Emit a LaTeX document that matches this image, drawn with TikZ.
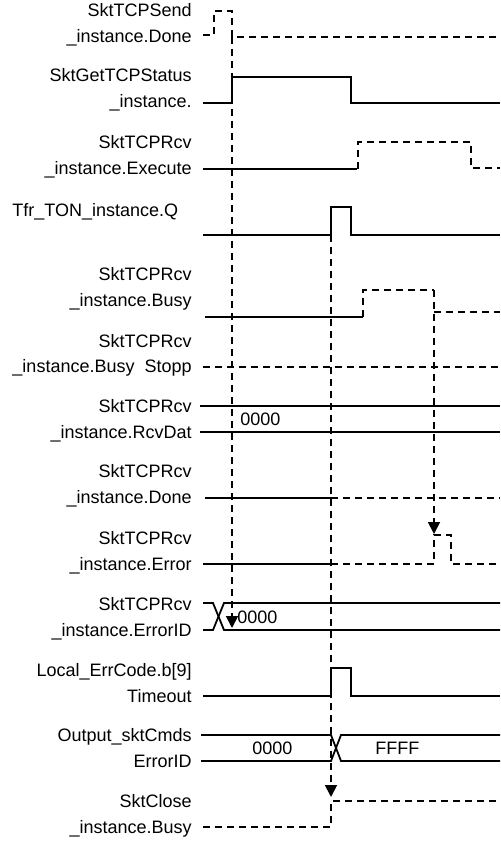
\documentclass[tikz,border=0pt]{standalone}
\usepackage{fontspec}
\setmainfont{Liberation Sans}
\usepackage{tikz}
\usetikzlibrary{
  arrows.meta,
  positioning,
  calc
}
\definecolor{waveblack}{RGB}{0,0,0}
\tikzset{
  siglabel/.style={
    anchor=base east, align=right, inner sep=0pt,
    font=\fontsize{9}{13}\selectfont
  },
  buslabel/.style={
    anchor=base west, inner sep=0pt,
    font=\fontsize{9}{13}\selectfont
  },
  wave/.style={line width=0.9pt, color=waveblack},
  waveD/.style={wave, dash pattern=on 3.5pt off 2.5pt},
  cause/.style={waveD, -{Triangle[length=6pt, width=6pt]}}
}

\begin{document}
\begin{tikzpicture}[x=0.5pt, y=-0.5pt]
\useasboundingbox (0,0) rectangle (500,854);

\node[siglabel] (sendDone)   at (192,43)  {SktTCPSend\\\_instance.Done};
\node[siglabel] (getStatus)  at (192,108) {SktGetTCPStatus\\\_instance.};
\node[siglabel] (rcvExec)    at (192,175) {SktTCPRcv\\\_instance.Execute};
\node[siglabel, anchor=base west] (tonQ) at (12,217) {Tfr\_TON\_instance.Q};
\node[siglabel] (rcvBusy)    at (192,307) {SktTCPRcv\\\_instance.Busy};
\node[siglabel] (rcvStop)    at (192,373) {SktTCPRcv\\\_instance.Busy\ \ Stopp};
\node[siglabel] (rcvDat)     at (192,438) {SktTCPRcv\\\_instance.RcvDat};
\node[siglabel] (rcvDone)    at (192,503) {SktTCPRcv\\\_instance.Done};
\node[siglabel] (rcvErr)     at (192,570) {SktTCPRcv\\\_instance.Error};
\node[siglabel] (rcvErrID)   at (192,636) {SktTCPRcv\\\_instance.ErrorID};
\node[siglabel] (errTimeout) at (192,702) {Local\_ErrCode.b[9]\\Timeout};
\node[siglabel] (cmdErrID)   at (192,767) {Output\_sktCmds\\ErrorID};
\node[siglabel] (closeBusy)  at (192,833) {SktClose\\\_instance.Busy};

\draw[waveD] (203,35) -- (214,35) -- (214,11) -- (232,11) -- (232,37) -- (500,37);
\draw[wave]  (203,103) -- (232,103) -- (232,77) -- (351,77) -- (351,103) -- (500,103);
\draw[wave]  (203,169) -- (357,169);
\draw[waveD] (358,169) -- (358,142) -- (471,142) -- (471,168) -- (500,168);
\draw[wave]  (203,235) -- (331,235) -- (331,207) -- (351,207) -- (351,235) -- (500,235);
\draw[wave]  (205,317) -- (363,317);
\draw[waveD] (363,317) -- (363,290) -- (434,290);
\draw[waveD] (434,312) -- (500,312);
\draw[waveD] (203,367) -- (500,367);
\draw[wave]  (200,406) -- (500,406) (200,432) -- (500,432);
\node[buslabel] (datVal) at (240,425) {0000};
\draw[wave]  (205,498) -- (331,498);
\draw[waveD] (331,498) -- (500,498);
\draw[wave]  (203,564) -- (331,564);
\draw[waveD] (331,564) -- (434,564) -- (434,535) -- (451,535) -- (451,564) -- (500,564);
\draw[wave]  (203,603) -- (213,603) -- (224,630) -- (500,630);
\draw[wave]  (203,630) -- (213,630) -- (224,603) -- (500,603);
\node[buslabel] (errIdVal) at (237,623) {0000};
\draw[wave]  (203,696) -- (331,696) -- (331,668) -- (351,668) -- (351,696) -- (500,696);
\draw[wave]  (201,735) -- (331,735) -- (341,761) -- (500,761);
\draw[wave]  (201,761) -- (331,761) -- (341,735) -- (500,735);
\node[buslabel] (cmdOld) at (252,754) {0000};
\node[buslabel] (cmdNew) at (375,754) {FFFF};
\draw[waveD] (203,827) -- (331,827) -- (331,801) -- (500,801);

\coordinate (sendFall) at (232,37);
\coordinate (errIdHit) at (232,628);
\coordinate (tonRise)  at (331,235);
\coordinate (closeHit) at (331,797);
\coordinate (busyFall) at (434,290);
\coordinate (errHit)   at (434,534);
\draw[cause] (sendFall) -- (errIdHit);
\draw[cause] (tonRise)  -- (closeHit);
\draw[cause] (busyFall) -- (errHit);
\end{tikzpicture}
\end{document}
